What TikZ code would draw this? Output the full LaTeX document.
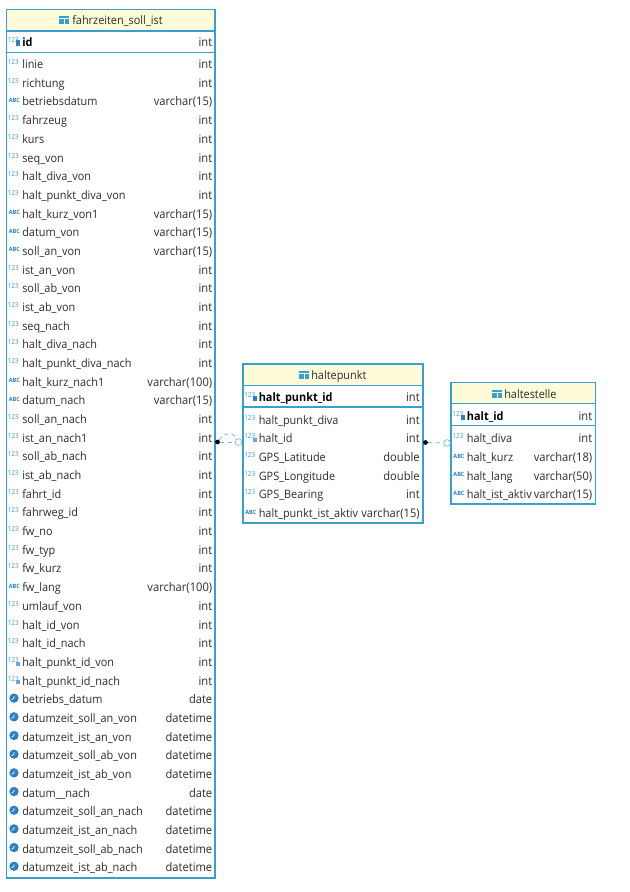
\documentclass[tikz,border=0pt]{standalone}
\usepackage{fontspec}
\setmainfont[FakeStretch=0.94]{Open Sans}
\definecolor{edge}{HTML}{3A9FCB}
\definecolor{headfill}{HTML}{FDFBD9}
\definecolor{iconblue}{HTML}{3F9FD8}
\definecolor{icondark}{HTML}{2F7FC0}
\definecolor{inktext}{HTML}{2C2C2C}
\tikzset{
  x=0.75pt,y=-0.75pt,
  tablebox/.style={draw=edge,line width=1.3pt,fill=white},
  headband/.style={fill=headfill,draw=none},
  rule/.style={draw=edge,line width=0.8pt},
  lab/.style={anchor=base west,inner sep=0pt,text=inktext,font=\fontsize{8.7}{10}\selectfont},
  typ/.style={anchor=base east,inner sep=0pt,text=inktext,font=\fontsize{8.9}{10}\selectfont},
  title/.style={anchor=base west,inner sep=0pt,text=inktext,font=\fontsize{8.7}{10}\selectfont},
  numicon/.style={anchor=base west,inner sep=0pt,text=iconblue,font=\fontsize{5.2}{5}\selectfont},
  abcicon/.style={anchor=base west,inner sep=0pt,text=icondark,font=\fontsize{4.4}{4}\selectfont\bfseries},
  link/.style={draw=edge!75,line width=0.55pt,dash pattern=on 3pt off 2.5pt},
  enddot/.style={circle,fill=black!85!blue,inner sep=0pt,minimum size=3.6pt},
  endring/.style={circle,draw=edge!70,fill=white,line width=0.5pt,inner sep=0pt,minimum size=5pt},
}
% \fieldrow{x text}{x right}{y}{icon}{label}{type}{id}
\newcommand{\fieldrow}[7]{%
  \pgfmathsetmacro{\ybase}{#3+4.6}%
  \ifnum#4=0 \node[numicon,name=ic#7] at ({#1-14.5},{\ybase-4}) {123};\fi
  \ifnum#4=1 \node[abcicon,name=ic#7] at ({#1-13.5},{\ybase-3.5}) {ABC};\fi
  \ifnum#4=2 \node[circle,fill=icondark,inner sep=0pt,minimum size=7pt,name=ic#7] at ({#1-8},{#3-1}) {};
     \draw[white,line width=0.5pt] ({#1-8},{#3-3}) -- ({#1-8},{#3-1}) -- ({#1-10.5},{#3+0.5});\fi
  \ifnum#4=3 \node[numicon,name=ic#7] at ({#1-14.5},{\ybase-4}) {123};
     \fill[icondark!70] ({#1-6},{#3}) rectangle ({#1-2},{#3+4});\fi
  \ifnum#4=4 \node[numicon,name=ic#7] at ({#1-14.5},{\ybase-4}) {123};
     \fill[icondark] ({#1-6},{#3-1.5}) rectangle ({#1-2},{#3+4});\fi
  \node[lab,name=lb#7] at (#1,\ybase) {#5};
  \node[typ,name=ty#7] at (#2,\ybase) {#6};
}
\begin{document}
\begin{tikzpicture}
\useasboundingbox (0,0) rectangle (630,892);
\fill[white] (0,0) rectangle (630,892);

% ---------- table fahrzeiten_soll_ist
\draw[tablebox] (6.5,9.5) rectangle (215,878);
\fill[headband] (7.2,10.2) rectangle (214.3,31);
\draw[rule] (7,31) -- (214.5,31);
\draw[rule] (7,52.5) -- (214.5,52.5);
\node[title,name=tAt] at (72,24.6) {fahrzeiten\_soll\_ist};
\fill[edge] (59,16) rectangle (69,24);
\draw[white,line width=0.35pt] (59,18.5) -- (69,18.5) (64,18.5) -- (64,24);
\fieldrow{22}{212.5}{42}{4}{\textbf{\textcolor{black}{id}}}{int}{Aid}
\foreach \lb/\ty/\ic [count=\n from 0] in {
 linie/int/0,richtung/int/0,betriebsdatum/varchar(15)/1,fahrzeug/int/0,kurs/int/0,
 seq\_von/int/0,halt\_diva\_von/int/0,halt\_punkt\_diva\_von/int/0,halt\_kurz\_von1/varchar(15)/1,
 datum\_von/varchar(15)/1,soll\_an\_von/varchar(15)/1,ist\_an\_von/int/0,soll\_ab\_von/int/0,
 ist\_ab\_von/int/0,seq\_nach/int/0,halt\_diva\_nach/int/0,halt\_punkt\_diva\_nach/int/0,
 halt\_kurz\_nach1/varchar(100)/1,datum\_nach/varchar(15)/1,soll\_an\_nach/int/0,ist\_an\_nach1/int/0,
 soll\_ab\_nach/int/0,ist\_ab\_nach/int/0,fahrt\_id/int/0,fahrweg\_id/int/0,fw\_no/int/0,fw\_typ/int/0,
 fw\_kurz/int/0,fw\_lang/varchar(100)/1,umlauf\_von/int/0,halt\_id\_von/int/0,halt\_id\_nach/int/0,
 halt\_punkt\_id\_von/int/3,halt\_punkt\_id\_nach/int/3,betriebs\_datum/date/2,
 datumzeit\_soll\_an\_von/datetime/2,datumzeit\_ist\_an\_von/datetime/2,datumzeit\_soll\_ab\_von/datetime/2,
 datumzeit\_ist\_ab\_von/datetime/2,datum\_\_nach/date/2,datumzeit\_soll\_an\_nach/datetime/2,
 datumzeit\_ist\_an\_nach/datetime/2,datumzeit\_soll\_ab\_nach/datetime/2,datumzeit\_ist\_ab\_nach/datetime/2}
{
  \pgfmathsetmacro{\yy}{64+18.68*\n}
  \fieldrow{22}{212.5}{\yy}{\ic}{\lb}{\ty}{A\n}
}

% ---------- table haltepunkt
\draw[tablebox] (243,364) rectangle (423,523);
\fill[headband] (243.7,364.7) rectangle (422.3,385);
\draw[rule] (243.5,385.5) -- (422.5,385.5);
\draw[rule] (243.5,407) -- (422.5,407);
\node[title,name=tBt] at (311,379.6) {haltepunkt};
\fill[edge] (299,371) rectangle (309,379);
\draw[white,line width=0.35pt] (299,373.5) -- (309,373.5) (304,373.5) -- (304,379);
\fieldrow{258.5}{420}{397}{4}{\textbf{\textcolor{black}{halt\_punkt\_id}}}{int}{Bpk}
\fieldrow{258.5}{420}{419.5}{0}{halt\_punkt\_diva}{int}{B0}
\fieldrow{258.5}{420}{438}{3}{halt\_id}{int}{B1}
\fieldrow{258.5}{420}{457}{0}{GPS\_Latitude}{double}{B2}
\fieldrow{258.5}{420}{475.5}{0}{GPS\_Longitude}{double}{B3}
\fieldrow{258.5}{420}{494}{0}{GPS\_Bearing}{int}{B4}
\fieldrow{258.5}{420}{513}{1}{halt\_punkt\_ist\_aktiv}{varchar(15)}{B5}

% ---------- table haltestelle
\draw[tablebox] (451,382.5) rectangle (595.5,504);
\fill[headband] (451.7,383.2) rectangle (594.8,403);
\draw[rule] (451.5,403.5) -- (595,403.5);
\draw[rule] (451.5,425.5) -- (595,425.5);
\node[title,name=tCt] at (504,398) {haltestelle};
\fill[edge] (492,389.5) rectangle (501.5,397.5);
\draw[white,line width=0.35pt] (492,392) -- (501.5,392) (497,392) -- (497,397.5);
\fieldrow{466.7}{592.5}{416}{4}{\textbf{\textcolor{black}{halt\_id}}}{int}{Cpk}
\fieldrow{466.7}{592.5}{438}{0}{halt\_diva}{int}{C0}
\fieldrow{466.7}{592.5}{457}{1}{halt\_kurz}{varchar(18)}{C1}
\fieldrow{466.7}{592.5}{475.5}{1}{halt\_lang}{varchar(50)}{C2}
\fieldrow{466.7}{592.5}{494}{1}{halt\_ist\_aktiv}{varchar(15)}{C3}

% ---------- connectors
\node[enddot,name=dotA] at (217.5,442) {};
\node[endring,name=ringA] at (238.5,442) {};
\node[enddot,name=dotB] at (425.5,442.5) {};
\node[endring,name=ringB] at (447,443) {};
\draw[link] (dotA) -- (ringA);
\draw[link] (dotA) .. controls (224,433) and (233,431) .. (ringA);
\draw[link] (dotB) -- (ringB);
\end{tikzpicture}
\end{document}
